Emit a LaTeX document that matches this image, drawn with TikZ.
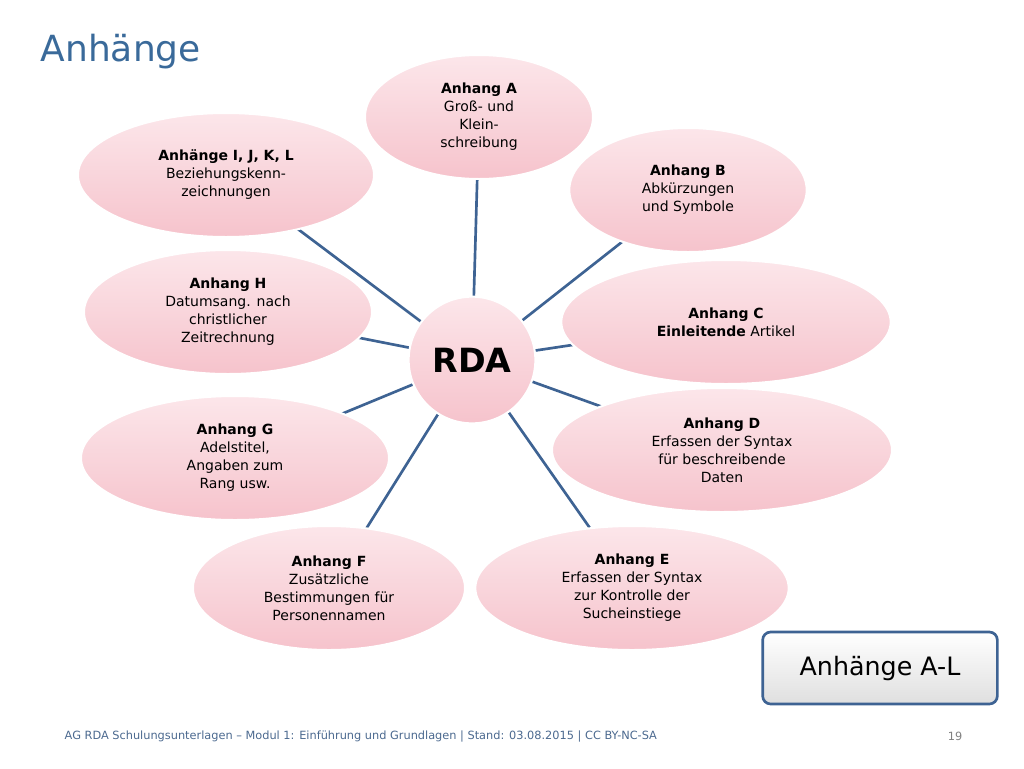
\documentclass[tikz,border=0pt]{standalone}
\usepackage{fontspec}
\setmainfont{DejaVu Sans}
\usetikzlibrary{shapes.geometric,backgrounds}
\definecolor{linkblue}{HTML}{3E6393}
\definecolor{titleblue}{HTML}{3A6A9A}
\definecolor{pinkfill}{HTML}{F6C3CC}
\definecolor{pinklight}{HTML}{FCE6EA}
\tikzset{
  bub/.style={ellipse, inner sep=0pt, draw=white, line width=1.5pt,
    top color=pinklight, bottom color=pinkfill, middle color=pinkfill!70!white,
    align=center, font=\fontsize{10.5}{13.5}\selectfont, text=black},
  link/.style={draw=linkblue, line width=2pt},
}
\begin{document}
\begin{tikzpicture}[x=0.75pt,y=-0.75pt]
\useasboundingbox (0,0) rectangle (1024,768);
\node[anchor=west, text=titleblue, font=\fontsize{27}{30}\selectfont] (title) at (36,52) {Anhänge};
\node[circle, draw=white, line width=1.5pt, inner sep=0pt, minimum size=95pt,
  top color=pinklight, bottom color=pinkfill, font=\fontsize{25}{28}\selectfont\bfseries] (rda) at (472,360) {RDA};
\node[bub, minimum width=171pt, minimum height=93pt] (a) at (479,117) {\textbf{Anhang A}\\Groß- und\\Klein-\\schreibung};
\node[bub, minimum width=178pt, minimum height=93pt] (b) at (688,190) {\textbf{Anhang B}\\Abkürzungen\\und Symbole};
\node[bub, minimum width=247pt, minimum height=93pt] (c) at (726,322) {\textbf{Anhang C}\\\textbf{Einleitende} Artikel};
\node[bub, minimum width=255pt, minimum height=93pt] (d) at (722,450) {\textbf{Anhang D}\\Erfassen der Syntax\\für beschreibende\\Daten};
\node[bub, minimum width=235pt, minimum height=93pt] (e) at (632,588) {\textbf{Anhang E}\\Erfassen der Syntax\\zur Kontrolle der\\Sucheinstiege};
\node[bub, minimum width=204pt, minimum height=93pt] (f) at (329,588) {\textbf{Anhang F}\\Zusätzliche\\Bestimmungen für\\Personennamen};
\node[bub, minimum width=231pt, minimum height=93pt] (g) at (235,458) {\textbf{Anhang G}\\Adelstitel,\\Angaben zum\\Rang usw.};
\node[bub, minimum width=216pt, minimum height=93pt] (h) at (228,312) {\textbf{Anhang H}\\Datumsang. nach\\christlicher\\Zeitrechnung};
\node[bub, minimum width=222pt, minimum height=93pt] (i) at (226,175) {\textbf{Anhänge I, J, K, L}\\Beziehungskenn-\\zeichnungen};
\begin{scope}[on background layer]
\foreach \n in {a,b,c,d,e,f,g,h,i} \draw[link] (rda.center) -- (\n.center);
\end{scope}
\node[draw=linkblue, line width=2pt, rounded corners=6pt, top color=white, bottom color=gray!25,
  minimum width=176pt, minimum height=54pt, font=\fontsize{19}{22}\selectfont] (box) at (880,668) {Anhänge A-L};
\node[anchor=west, text=linkblue!80!gray, font=\fontsize{8.5}{10}\selectfont] (foot) at (60,736) {AG RDA Schulungsunterlagen – Modul 1: Einführung und Grundlagen | Stand: 03.08.2015 | CC BY-NC-SA};
\node[text=gray, font=\fontsize{8.5}{10}\selectfont] (num) at (955,736) {19};
\end{tikzpicture}
\end{document}
